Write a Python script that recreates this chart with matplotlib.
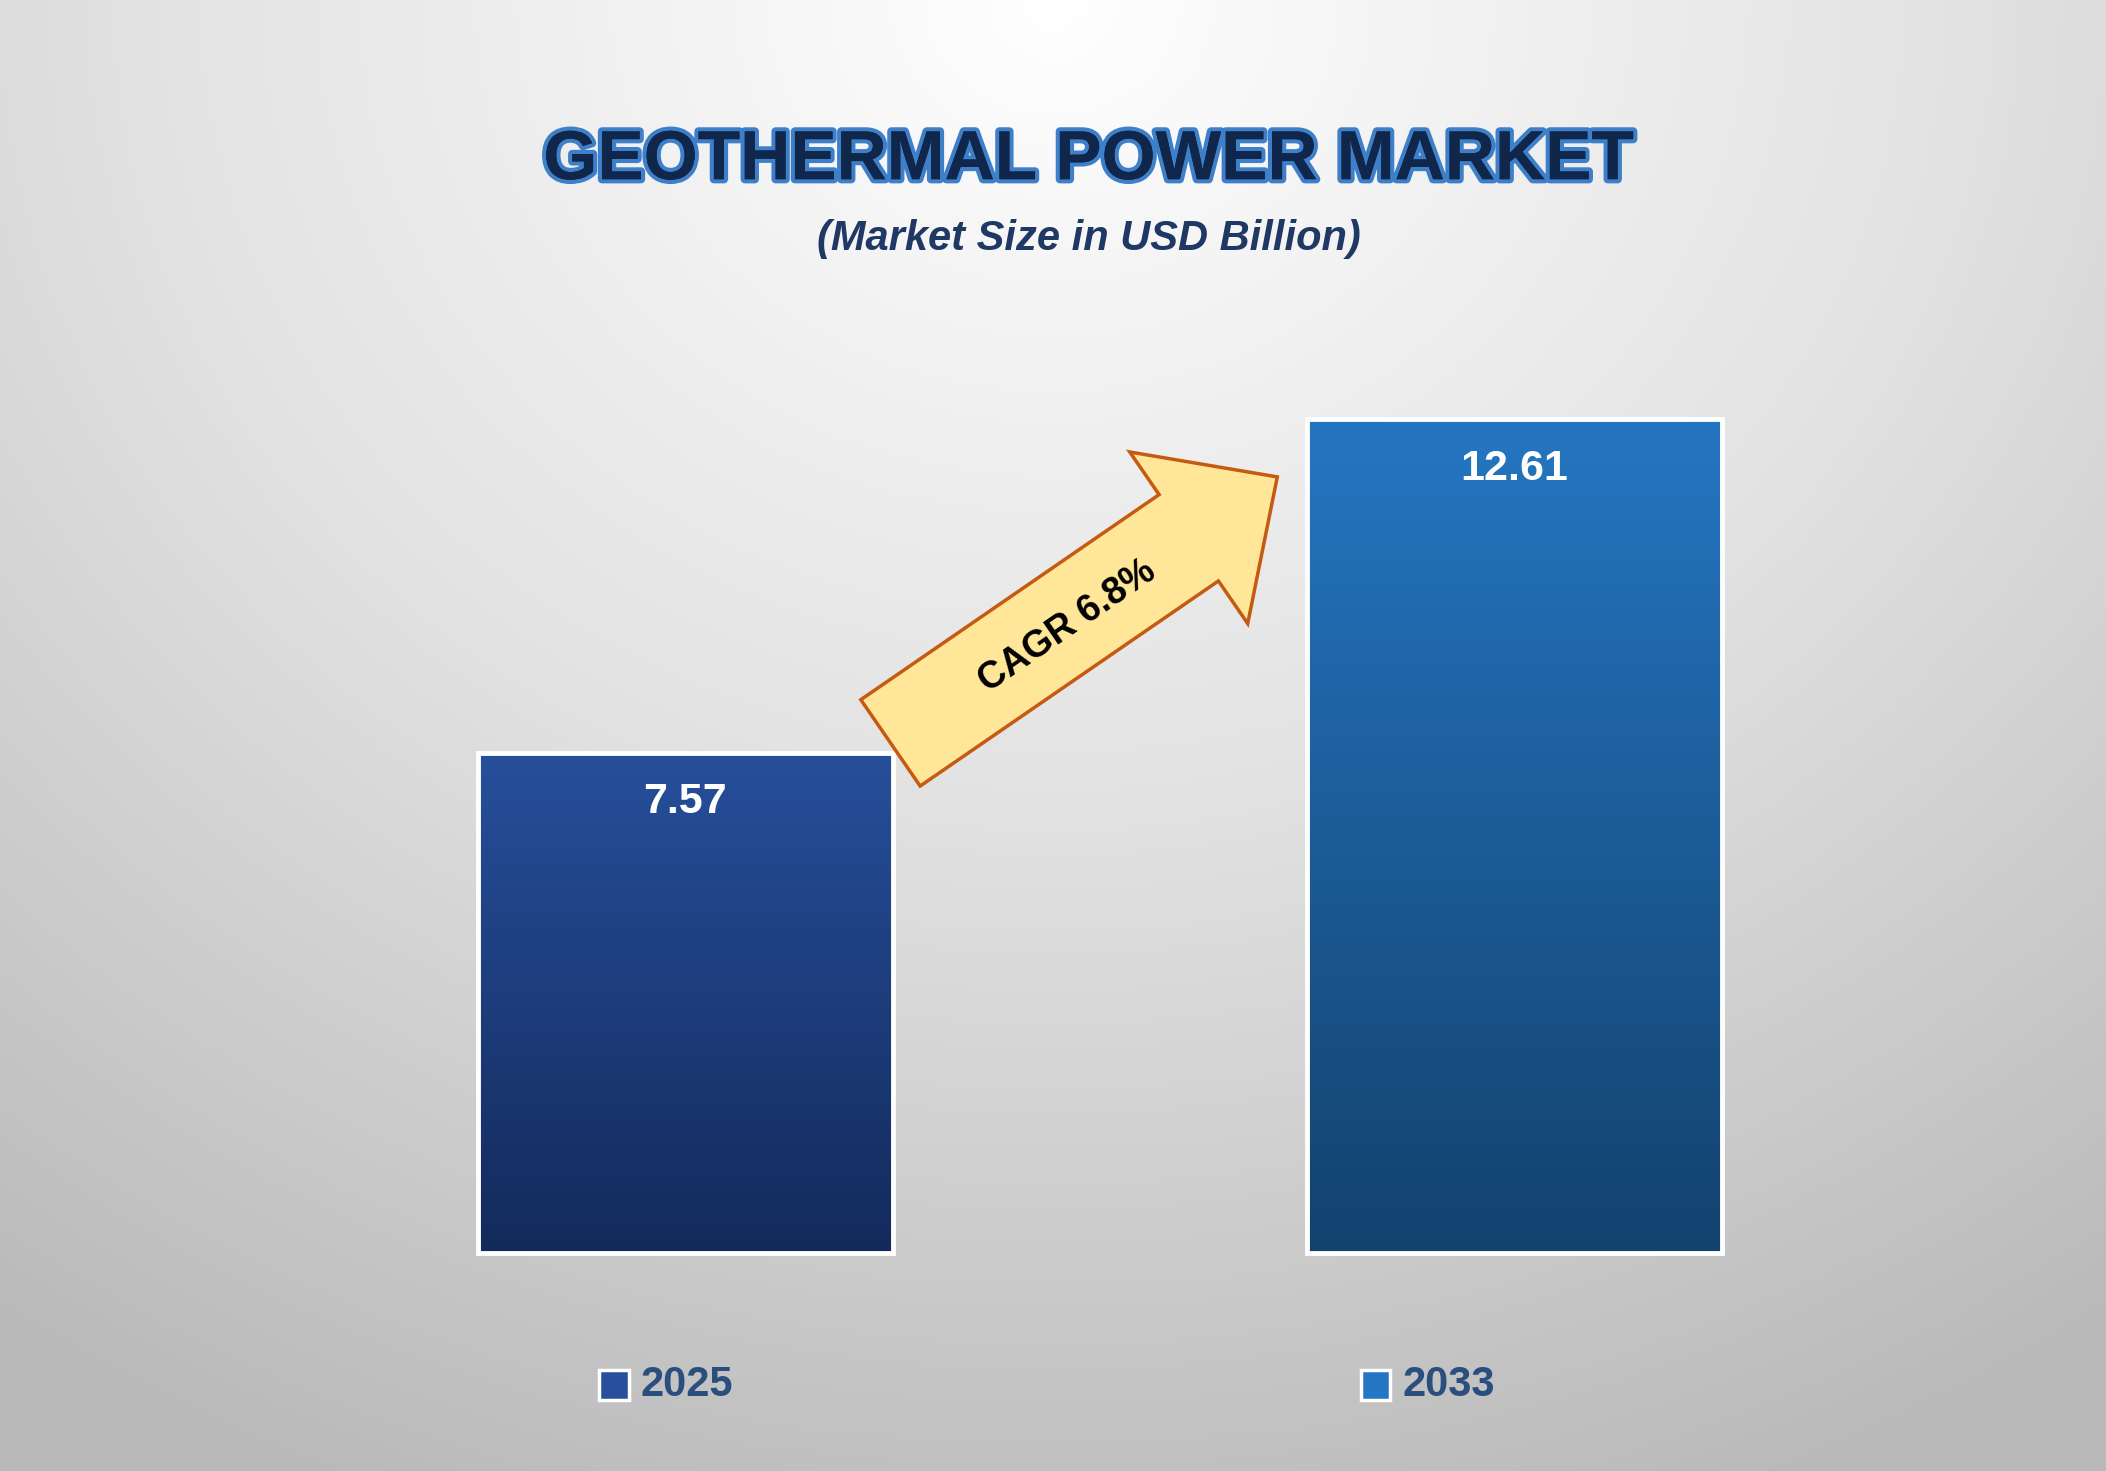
import numpy as np
import matplotlib

matplotlib.use("Agg")
import matplotlib.pyplot as plt
import matplotlib.patheffects as pe
from matplotlib.patches import Rectangle, FancyArrow
from matplotlib.colors import LinearSegmentedColormap

plt.rcParams["font.family"] = ["Liberation Sans", "DejaVu Sans"]

years = ["2025", "2033"]
values = [7.57, 12.61]
top_colors = ["#274f9b", "#2576c2"]
bottom_colors = ["#132a5b", "#13426e"]
cagr_label = "CAGR 6.8%"
title = "GEOTHERMAL POWER MARKET"
subtitle = "(Market Size in USD Billion)"

W, H = 1568, 1095  # layout grid (reference pixels)
fig = plt.figure(figsize=(21.06, 14.71), dpi=100)

# background radial gradient
bg = fig.add_axes([0, 0, 1, 1])
yy, xx = np.mgrid[0:1:400j, 0:1:600j]
r = np.sqrt(((xx - 0.5) * 1.2) ** 2 + (yy * 0.95) ** 2)
bg_cmap = LinearSegmentedColormap.from_list("bg", ["#ffffff", "#e2e2e2", "#b9b9b9"])
bg.imshow(r, cmap=bg_cmap, aspect="auto", extent=[0, 1, 0, 1], origin="upper", vmin=0, vmax=1.05)
bg.axis("off")

# bars
ax = fig.add_axes([356 / W, (H - 933) / H, (1282 - 356) / W, (933 - 312) / H])
ax.set_xlim(-0.25, 1.25)
ax.set_ylim(0, max(values))
ax.axis("off")
width = 0.5
for i, v in enumerate(values):
    cmap = LinearSegmentedColormap.from_list(f"b{i}", [bottom_colors[i], top_colors[i]])
    grad = np.linspace(0, 1, 256).reshape(-1, 1)
    ax.imshow(grad, cmap=cmap, origin="lower", aspect="auto",
              extent=[i - width / 2, i + width / 2, 0, v], zorder=2)
    ax.add_patch(Rectangle((i - width / 2, 0), width, v, fill=False,
                           edgecolor="white", linewidth=3.5, zorder=3, clip_on=False))
    ax.text(i, v - 0.45, f"{v:.2f}", ha="center", va="top", color="white",
            fontsize=31, fontweight="bold", zorder=4)
ax.set_xlim(-0.25, 1.25)
ax.set_ylim(0, max(values))

# overlay in layout coordinates
ov = fig.add_axes([0, 0, 1, 1])
ov.set_xlim(0, W)
ov.set_ylim(H, 0)
ov.axis("off")

ov.text(W * 0.517, 120, title, ha="center", va="center", fontsize=50, fontweight="bold",
        color="#10264a",
        path_effects=[pe.withStroke(linewidth=6, foreground="#3d7fc9"), pe.Normal()])
ov.text(W * 0.517, 178, subtitle, ha="center", va="center", fontsize=30,
        fontweight="bold", style="italic", color="#1f3864")

# CAGR arrow
x0, y0, x1, y1 = 663, 553, 951, 355
ov.add_patch(FancyArrow(x0, y0, x1 - x0, y1 - y0, width=78, head_width=155,
                        head_length=80, length_includes_head=True,
                        facecolor="#ffe699", edgecolor="#c55a11", linewidth=2.5, zorder=5))
ang = np.degrees(np.arctan2(y0 - y1, x1 - x0))
ov.text(795, 466, cagr_label, ha="center", va="center", rotation=ang, fontsize=27,
        fontweight="bold", color="black", zorder=6, rotation_mode="anchor")

# legend
for i, yr in enumerate(years):
    cx = 457 + i * 567
    ov.add_patch(Rectangle((cx - 11, 1020), 22, 22, facecolor=top_colors[i],
                           edgecolor="white", linewidth=2.5))
    ov.text(cx + 20, 1031, yr, ha="left", va="center", fontsize=30,
            fontweight="bold", color="#2a4f7e")

fig.savefig("out.png", dpi=100)
